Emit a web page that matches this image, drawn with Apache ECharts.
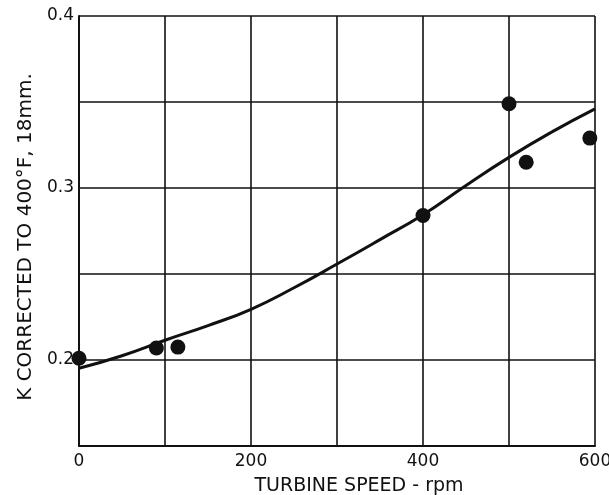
<!DOCTYPE html>
<html>
<head>
<meta charset="utf-8">
<script src="https://cdn.jsdelivr.net/npm/echarts@6/dist/echarts.min.js"></script>
<style>
html,body{margin:0;padding:0;background:#fff;}
#chart{width:609px;height:495px;}
</style>
</head>
<body>
<div id="chart"></div>
<script>
// Measured points (turbine speed rpm, K)
const pointX = [0, 90, 115, 400, 500, 520, 594];
const pointY = [0.201, 0.207, 0.2075, 0.284, 0.349, 0.315, 0.329];
// Fitted curve
const curveX = [0, 50, 100, 150, 200, 250, 300, 350, 400, 450, 500, 550, 600];
const curveY = [0.1952, 0.2025, 0.2115, 0.2200, 0.2295, 0.2420, 0.2558, 0.2700, 0.2845, 0.3015, 0.3178, 0.3326, 0.3460];
const xTickLabels = ['0', '200', '400', '600'];
const yTickLabels = ['0.2', '0.3', '0.4'];
const xAxisName = 'TURBINE SPEED - rpm';
const yAxisName = 'K CORRECTED TO 400°F, 18mm.';

const font = 'DejaVu Sans, Liberation Sans, sans-serif';
const chart = echarts.init(document.getElementById('chart'));
chart.setOption({
  animation: false,
  backgroundColor: '#fff',
  grid: {left: 79, right: 14, top: 16, bottom: 49, containLabel: false, outerBoundsMode: 'none'},
  xAxis: {
    type: 'value', min: 0, max: 600, interval: 100,
    name: xAxisName, nameLocation: 'middle', nameGap: 31,
    nameTextStyle: {color: '#111', fontSize: 19, fontFamily: font, padding: [0, 0, 0, 44]},
    axisLine: {show: true, onZero: false, lineStyle: {color: '#111', width: 2}},
    axisTick: {show: false},
    axisLabel: {
      color: '#111', fontSize: 17, fontFamily: font, margin: 7,
      formatter: v => { const s = String(Math.round(v)); return xTickLabels.includes(s) ? s : ''; }
    },
    splitLine: {show: true, lineStyle: {color: '#111', width: 1.6}}
  },
  yAxis: {
    type: 'value', min: 0.15, max: 0.4, interval: 0.05,
    name: yAxisName, nameLocation: 'middle', nameGap: 42, nameRotate: 90,
    nameTextStyle: {color: '#111', fontSize: 20, fontFamily: font, padding: [0, 12, 0, 0]},
    axisLine: {show: true, onZero: false, lineStyle: {color: '#111', width: 2}},
    axisTick: {show: false},
    axisLabel: {
      color: '#111', fontSize: 17, fontFamily: font, margin: 5,
      formatter: v => { const t = (Math.round(v*10)/10).toFixed(1); return (Math.abs(v*10 - Math.round(v*10)) < 1e-6 && yTickLabels.includes(t)) ? t : ''; }
    },
    splitLine: {show: true, lineStyle: {color: '#111', width: 1.6}}
  },
  series: [
    {
      type: 'line', smooth: true, showSymbol: false,
      data: curveX.map((x, i) => [x, curveY[i]]),
      lineStyle: {color: '#111', width: 3}, z: 3
    },
    {
      type: 'scatter', symbol: 'circle', symbolSize: 15,
      data: pointX.map((x, i) => [x, pointY[i]]),
      itemStyle: {color: '#111', opacity: 1}, z: 4
    }
  ]
});
</script>
</body>
</html>
